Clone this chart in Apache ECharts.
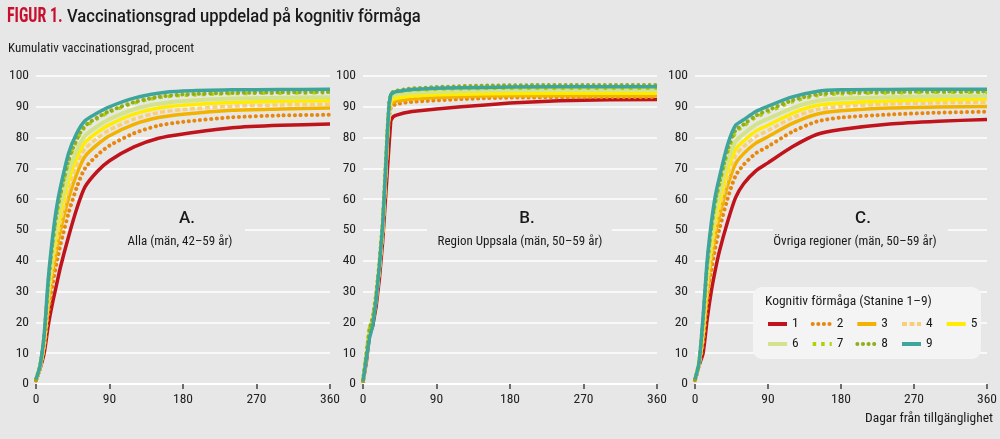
<!DOCTYPE html>
<html>
<head>
<meta charset="utf-8">
<title>Vaccinationsgrad uppdelad på kognitiv förmåga</title>
<script src="https://cdn.jsdelivr.net/npm/echarts@6/dist/echarts.min.js"></script>
<style>
  html, body { margin: 0; padding: 0; background: #e7e7e7; }
  #chart { width: 1000px; height: 439px; }
</style>
</head>
<body>
<div id="chart"></div>
<script>
// Stanine-grupper (serienamn)
const stanine = ['1', '2', '3', '4', '5', '6', '7', '8', '9'];
const xTicks = [0, 90, 180, 270, 360];

// Dagar för panel A och C
const daysAC = [0, 5, 10, 15, 20, 25, 30, 40, 50, 60, 75, 90, 120, 150, 180, 240, 300, 360];
// Dagar för panel B (Uppsala)
const daysB = [0, 4, 8, 12, 16, 20, 24, 27, 30, 32, 34, 37, 40, 50, 60, 90, 120, 150, 180, 240, 300, 360];

// A. Alla (män, 42–59 år)
const alla = [
    [1, 5, 10, 19, 26, 32, 38, 48, 57, 64, 69, 72.5, 77, 79.8, 81.2, 83.2, 84.0, 84.4],
    [1.1, 5.3, 11.7, 23.2, 31.9, 39.0, 45.3, 55.6, 63.9, 70.0, 74.3, 77.4, 81.4, 83.9, 85.1, 86.6, 87.2, 87.4],
    [1.2, 5.5, 12.8, 25.9, 35.7, 43.5, 50.0, 60.4, 68.3, 73.9, 77.7, 80.6, 84.3, 86.5, 87.6, 88.9, 89.3, 89.6],
    [1.3, 5.6, 13.4, 27.6, 38.0, 46.3, 52.8, 63.4, 71.0, 76.3, 79.8, 82.5, 86.0, 88.1, 89.1, 90.2, 90.6, 90.8],
    [1.3, 5.7, 14.0, 29.1, 40.1, 48.8, 55.4, 66.1, 73.4, 78.4, 81.7, 84.2, 87.6, 89.6, 90.5, 91.4, 91.8, 92.0],
    [1.4, 5.8, 14.6, 30.6, 42.2, 51.3, 58.0, 68.8, 75.9, 80.6, 83.6, 86.0, 89.2, 91.0, 91.9, 92.7, 92.9, 93.1],
    [1.5, 5.9, 15.4, 32.5, 44.9, 54.5, 61.4, 72.3, 79.1, 83.4, 86.1, 88.3, 91.2, 93.0, 93.7, 94.3, 94.4, 94.6],
    [1.5, 5.9, 15.5, 32.8, 45.3, 55.0, 61.9, 72.8, 79.5, 83.8, 86.5, 88.6, 91.5, 93.2, 94.0, 94.5, 94.7, 94.8],
    [1.5, 6, 16, 34, 47, 57, 64, 75, 81.5, 85.5, 88, 90, 92.8, 94.4, 95.1, 95.5, 95.6, 95.7]
];

// B. Region Uppsala (män, 50–59 år)
const uppsala = [
    [0.5, 7, 16, 19, 25, 34, 46, 58, 70, 78, 85.5, 86.8, 87.2, 88, 88.5, 89.3, 90.0, 90.6, 91.2, 92.0, 92.3, 92.4],
    [1, 8, 17, 20, 27, 37, 49, 63, 79, 87, 89.8, 90.5, 90.8, 91.3, 91.6, 92.1, 92.5, 92.8, 93.0, 93.1, 93.1, 93.1],
    [1, 8.5, 17.5, 20.5, 27.5, 37.5, 50, 64, 80, 88, 90.8, 91.5, 91.8, 92.2, 92.5, 93.0, 93.3, 93.5, 93.6, 93.6, 93.6, 93.6],
    [1, 9, 18, 21, 28, 38, 50, 65, 81, 88.5, 91.6, 92.4, 92.7, 93.2, 93.5, 94.0, 94.3, 94.5, 94.6, 94.7, 94.7, 94.7],
    [1, 9, 18, 21, 28, 38, 50, 65, 81, 89, 91.8, 92.5, 92.8, 93.2, 93.5, 93.9, 94.1, 94.2, 94.3, 94.4, 94.4, 94.4],
    [1, 9, 18, 21, 28, 38, 51, 66, 82, 90, 93, 93.8, 94.0, 94.3, 94.6, 94.9, 95.1, 95.3, 95.4, 95.5, 95.5, 95.5],
    [1, 9.5, 18, 21.5, 29, 39, 52, 67, 83, 91, 93.8, 94.5, 94.8, 95.1, 95.4, 95.7, 95.9, 96.0, 96.0, 96.0, 96.0, 96.0],
    [1, 9.5, 18, 21.5, 29, 39, 52, 67, 83, 91.5, 94.2, 94.9, 95.2, 95.6, 96.0, 96.4, 96.7, 96.9, 97.0, 97.1, 97.1, 97.1],
    [1, 8, 15, 19, 27, 38, 51, 66, 82, 91, 94, 94.6, 94.9, 95.3, 95.6, 96.0, 96.2, 96.3, 96.4, 96.5, 96.5, 96.5]
];

// C. Övriga regioner (män, 50–59 år)
const ovriga = [
    [1, 6, 10, 21, 30, 37, 43, 52.5, 60.5, 65, 69.2, 71.8, 77, 81, 82.6, 84.4, 85.3, 85.9],
    [1.2, 6.3, 13.6, 26.7, 36.6, 44.2, 50.2, 60.0, 67.6, 71.2, 74.9, 77.1, 81.9, 85.2, 86.5, 87.5, 88.1, 88.4],
    [1.2, 6.5, 15.6, 29.9, 40.3, 48.3, 54.3, 64.3, 71.5, 74.8, 78.2, 80.3, 84.6, 87.6, 88.7, 89.6, 89.9, 90.1],
    [1.3, 6.6, 17.0, 32.0, 42.8, 50.9, 56.9, 67.0, 74.1, 77.1, 80.3, 82.3, 86.4, 89.1, 90.1, 90.9, 91.3, 91.5],
    [1.3, 6.7, 18.0, 33.7, 44.7, 53.1, 59.1, 69.3, 76.2, 78.9, 82.1, 84.0, 87.9, 90.4, 91.2, 91.9, 92.3, 92.5],
    [1.4, 6.8, 19.4, 35.8, 47.2, 55.7, 61.7, 72.0, 78.8, 81.2, 84.2, 86.1, 89.6, 91.9, 92.7, 93.1, 93.4, 93.5],
    [1.5, 6.9, 20.8, 38.1, 49.8, 58.6, 64.6, 75.0, 81.7, 83.7, 86.6, 88.3, 91.6, 93.6, 94.2, 94.5, 94.7, 94.7],
    [1.5, 6.9, 21.2, 38.7, 50.5, 59.3, 65.3, 75.8, 82.4, 84.3, 87.1, 88.9, 92.1, 94.0, 94.6, 94.8, 95.0, 95.0],
    [1.5, 7, 22, 40, 52, 61, 67, 77.5, 84, 85.8, 88.5, 90.2, 93.2, 95, 95.5, 95.6, 95.7, 95.7]
];

const FONT = "'Liberation Sans Narrow', 'Roboto Condensed', sans-serif";
const BG = '#e7e7e7';

const lineStyles = [
    { color: '#c0141c', width: 3.5 },
    { color: '#e8870e', width: 4, type: [0.1, 5.5], cap: 'round' },
    { color: '#f2b300', width: 3.5 },
    { color: '#f8cf78', width: 3.5, type: [5, 2.5] },
    { color: '#ffec00', width: 3.5 },
    { color: '#d3e38d', width: 4 },
    { color: '#b3d100', width: 3.5, type: [3.5, 5] },
    { color: '#8fae1b', width: 4, type: [0.1, 5.5], cap: 'round' },
    { color: '#3da59b', width: 3.5 }
];

function makeSeries(days, values, idx, smooth) {
    return values.map(function(vals, i) {
        return {
            name: stanine[i],
            type: 'line',
            xAxisIndex: idx,
            yAxisIndex: idx,
            data: days.map(function(d, j) { return [d, vals[j]]; }),
            symbol: 'none',
            showSymbol: false,
            smooth: smooth,
            color: lineStyles[i].color,
            lineStyle: lineStyles[i],
            silent: true
        };
    });
}

const chart = echarts.init(document.getElementById('chart'));

const gridLefts = [36, 363, 695];

const xAxes = gridLefts.map(function(_, i) {
    return {
        type: 'value',
        gridIndex: i,
        min: xTicks[0],
        max: xTicks[xTicks.length - 1],
        interval: 90,
        axisLine: { show: true, lineStyle: { color: '#ffffff', width: 1.5 } },
        axisTick: { show: true, length: 5, lineStyle: { color: '#444', width: 1.5 } },
        axisLabel: { margin: 9, fontSize: 13.5, color: '#222', fontFamily: FONT },
        splitLine: { show: false }
    };
});

const yAxes = gridLefts.map(function(_, i) {
    return {
        type: 'value',
        gridIndex: i,
        min: 0,
        max: 100,
        interval: 10,
        axisLine: { show: false },
        axisTick: { show: false },
        axisLabel: { margin: 7, fontSize: 13.5, color: '#222', fontFamily: FONT },
        splitLine: { lineStyle: { color: '#ffffff', width: 1.5 } }
    };
});

function panelLabel(letter, sub, cx, subX, rectX, rectW) {
    return [
        { type: 'rect', z: 5, shape: { x: rectX, y: 207, width: rectW, height: 48 }, style: { fill: BG } },
        { type: 'text', z: 6, x: cx, y: 219, style: { text: letter, fill: '#1a1a1a', font: "500 17px Roboto, sans-serif", textAlign: 'center', textVerticalAlign: 'middle' } },
        { type: 'text', z: 6, x: subX, y: 242, style: { text: sub, fill: '#1a1a1a', font: '13px ' + FONT, textAlign: 'center', textVerticalAlign: 'middle' } }
    ];
}

const legendCommon = {
    left: 766,
    padding: 0,
    itemWidth: 19,
    itemHeight: 10,
    itemGap: 12,
    selectedMode: false,
    itemStyle: { opacity: 0 },
    lineStyle: { width: 4 },
    z: 10,
    textStyle: { fontSize: 13.5, color: '#1a1a1a', fontFamily: FONT }
};

chart.setOption({
    backgroundColor: BG,
    animation: false,
    grid: gridLefts.map(function(l) {
        return { left: l, top: 76, width: 294, height: 308 };
    }),
    xAxis: xAxes,
    yAxis: yAxes,
    legend: [
        Object.assign({ top: 317, data: stanine.slice(0, 5) }, legendCommon),
        Object.assign({ top: 337, data: stanine.slice(5) }, legendCommon)
    ],
    graphic: [
        { type: 'text', x: 7, y: 17, scaleX: 0.8, style: { text: 'FIGUR 1.', fill: '#c8102e', font: "bold 20px " + FONT, textVerticalAlign: 'middle' } },
        { type: 'text', x: 67, y: 17, scaleX: 0.92, style: { text: 'Vaccinationsgrad uppdelad på kognitiv förmåga', fill: '#1a1a1a', font: "500 18px Roboto, sans-serif", textVerticalAlign: 'middle' } },
        { type: 'text', x: 8, y: 49, style: { text: 'Kumulativ vaccinationsgrad, procent', fill: '#1a1a1a', font: '13px ' + FONT, textVerticalAlign: 'middle' } },
        { type: 'text', x: 993, y: 419, style: { text: 'Dagar från tillgänglighet', fill: '#1a1a1a', font: '13.5px ' + FONT, textAlign: 'right', textVerticalAlign: 'middle' } },
        { type: 'rect', z: 5, shape: { x: 753, y: 287, width: 228, height: 72, r: 9 }, style: { fill: '#f4f4f4' } },
        { type: 'text', z: 6, x: 765, y: 302, style: { text: 'Kognitiv förmåga (Stanine 1–9)', fill: '#1a1a1a', font: '13.5px ' + FONT, textVerticalAlign: 'middle' } }
    ]
        .concat(panelLabel('A.', 'Alla (män, 42–59 år)', 187, 180, 110, 135))
        .concat(panelLabel('B.', 'Region Uppsala (män, 50–59 år)', 527, 520, 427, 185))
        .concat(panelLabel('C.', 'Övriga regioner (män, 50–59 år)', 863, 855, 773, 175)),
    series: []
        .concat(makeSeries(daysAC, alla, 0, 0.25))
        .concat(makeSeries(daysB, uppsala, 1, false))
        .concat(makeSeries(daysAC, ovriga, 2, 0.25))
});

window.addEventListener('resize', function() {
    chart.resize();
});
</script>
</body>
</html>
